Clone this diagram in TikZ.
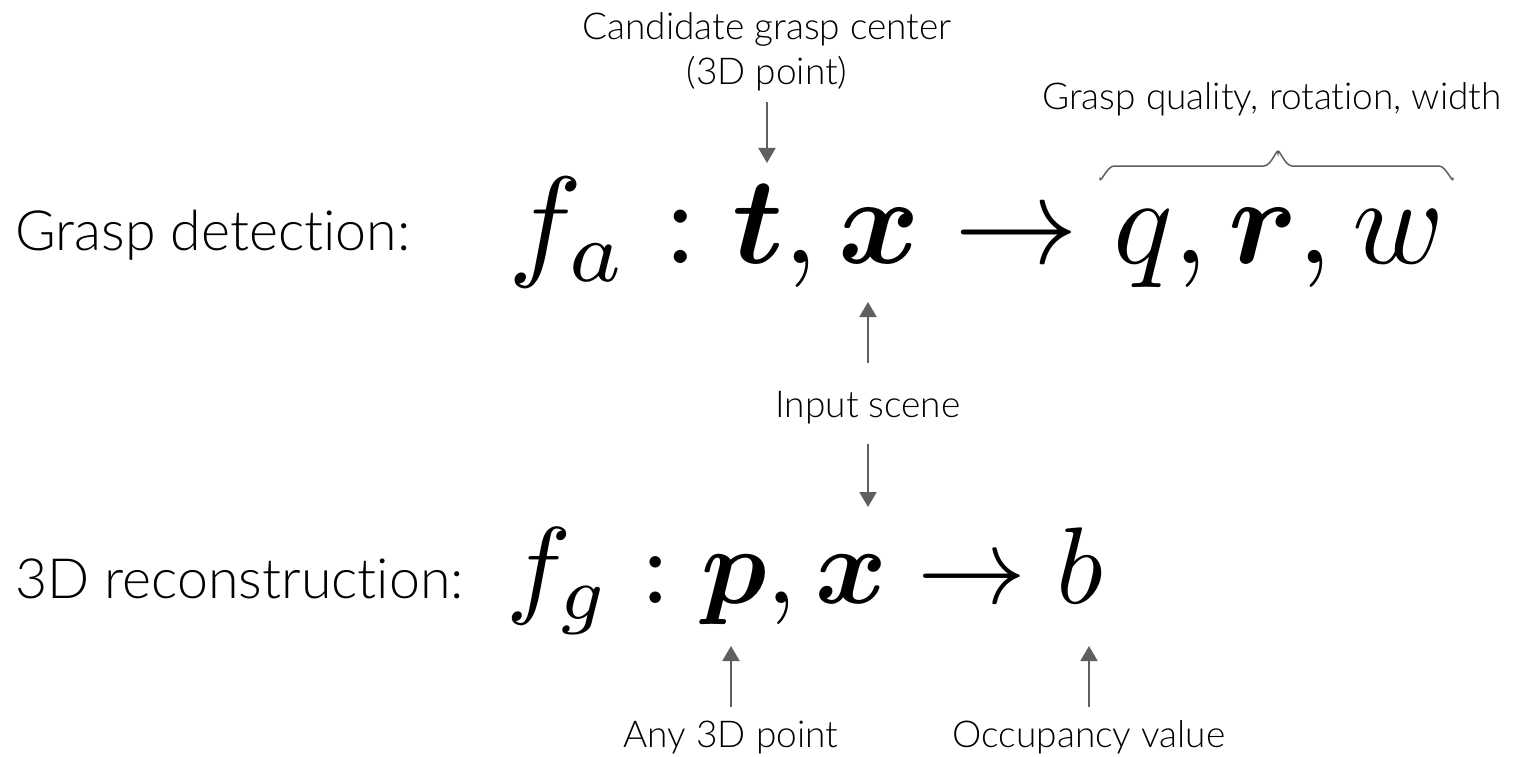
\documentclass[tikz,border=0pt]{standalone}
\usepackage{amsmath,bm}
\usepackage{fontspec}
\setmainfont{Lato Light}[Ligatures={NoCommon}]
\usetikzlibrary{arrows.meta}
\definecolor{arrowgray}{HTML}{5F5F5F}
\tikzset{
  biglabel/.style={anchor=base west, inner sep=0pt, font=\fontsize{55.5}{60}\selectfont},
  smalllabel/.style={anchor=base, inner sep=0pt, font=\fontsize{37}{45}\selectfont, align=center},
  eqnode/.style={anchor=base west, inner sep=0pt},
  pointer/.style={draw=arrowgray, line width=2pt, -{Triangle[width=17pt,length=15pt]}},
  bracestyle/.style={draw=arrowgray, line width=1.5pt, line cap=round},
}
\begin{document}
\begin{tikzpicture}[x=1pt,y=-1pt]
\useasboundingbox[fill=white] (0,0) rectangle (1526,757);
% row labels
\node[biglabel] (gd) at (15,250) {Grasp detection:};
\node[biglabel] (rc) at (15,598) {3D reconstruction:};
% equations
\node[eqnode] (eqa) at (508,263) {\scalebox{12.4}{$f_a:\bm{t},\bm{x}\rightarrow q,\bm{r},w$}};
\node[eqnode] (eqg) at (506,603) {\scalebox{10.9}{$f_g:\bm{p},\bm{x}\rightarrow b$}};
% annotation labels
\node[smalllabel] (cand) at (767,85) {Candidate grasp center\\(3D point)};
\node[smalllabel] (qual) at (1272,110) {Grasp quality, rotation, width};
\node[smalllabel] (inp) at (868,417) {Input scene};
\node[smalllabel] (any) at (731,747) {Any 3D point};
\node[smalllabel] (occ) at (1089,747) {Occupancy value};
% arrow ends
\coordinate (c1s) at (767,102);  \coordinate (c1e) at (767,163);
\coordinate (i1s) at (868,363);  \coordinate (i1e) at (868,302);
\coordinate (i2s) at (868,444);  \coordinate (i2e) at (868,507);
\coordinate (a1s) at (731,707);  \coordinate (a1e) at (731,646);
\coordinate (o1s) at (1089,707); \coordinate (o1e) at (1089,646);
\draw[pointer] (c1s) -- (c1e);
\draw[pointer] (i1s) -- (i1e);
\draw[pointer] (i2s) -- (i2e);
\draw[pointer] (a1s) -- (a1e);
\draw[pointer] (o1s) -- (o1e);
% brace
\draw[bracestyle] (1100,178) to[out=-90,in=180] (1114,166) -- (1264,166)
  to[out=0,in=90] (1278,153) to[out=90,in=180] (1292,166) -- (1439,166)
  to[out=0,in=-90] (1453,178);
\end{tikzpicture}
\end{document}
